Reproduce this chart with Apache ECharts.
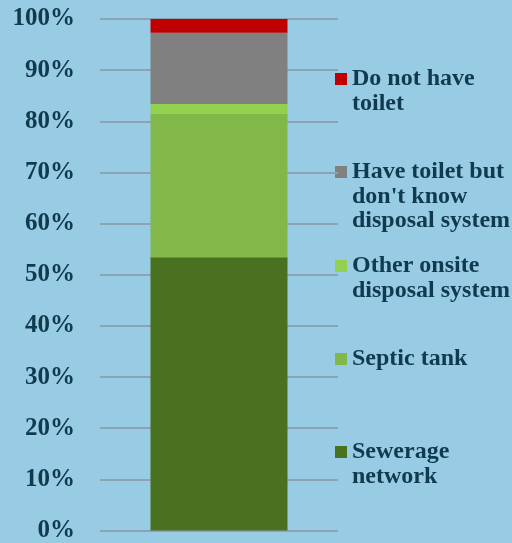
<!DOCTYPE html>
<html>
<head>
<meta charset="utf-8">
<style>
  html, body { margin: 0; padding: 0; background: #98cbe4; }
  #chart { width: 512px; height: 543px; }
</style>
<script src="https://cdn.jsdelivr.net/npm/echarts@6/dist/echarts.min.js"></script>
</head>
<body>
<div id="chart"></div>
<script>
// Share of households by toilet disposal system (stacked to 100%)
const categories = ['Households'];
const seriesNames = [
  'Sewerage network',
  'Septic tank',
  'Other onsite disposal system',
  "Have toilet but don't know disposal system",
  'Do not have toilet'
];
// legend text as it wraps beside the chart
const legendLabels = [
  'Sewerage\nnetwork',
  'Septic tank',
  'Other onsite\ndisposal system',
  "Have toilet but\ndon't know\ndisposal system",
  'Do not have\ntoilet'
];
const sewerage = [53.4];
const septicTank = [28.1];
const otherOnsite = [1.9];
const unknownDisposal = [13.9];
const noToilet = [2.7];
const seriesValues = [sewerage, septicTank, otherOnsite, unknownDisposal, noToilet];
const seriesColors = ['#4a711f', '#82b84a', '#92d050', '#808080', '#c00000'];
const yTicks = [0, 10, 20, 30, 40, 50, 60, 70, 80, 90, 100];

const textColor = '#103a4e';
const fontFamily = '"Liberation Serif", "DejaVu Serif", serif';
const lineH = 24.5;
// vertical centre of each legend entry's first line
const legendRowCentres = [452, 359, 266, 172, 79];

// legend: square swatch beside the first line of a wrapped label
const legendGraphics = [];
seriesNames.forEach((name, i) => {
  const cy = legendRowCentres[i];
  legendGraphics.push({
    type: 'rect',
    left: 335,
    top: cy - 6,
    shape: { width: 12, height: 12 },
    style: { fill: seriesColors[i] }
  });
  legendGraphics.push({
    type: 'text',
    left: 352,
    top: cy - lineH / 2,
    style: {
      text: legendLabels[i],
      fill: textColor,
      font: 'bold 24px ' + fontFamily,
      lineHeight: lineH,
      verticalAlign: 'top'
    }
  });
});

const chart = echarts.init(document.getElementById('chart'));
chart.setOption({
  backgroundColor: '#98cbe4',
  animation: false,
  grid: { left: 100, right: 174, top: 19, bottom: 11 },
  graphic: legendGraphics,
  xAxis: {
    type: 'category',
    data: categories,
    axisLine: { show: false },
    axisTick: { show: false },
    axisLabel: { show: false }
  },
  yAxis: {
    type: 'value',
    min: yTicks[0],
    max: yTicks[yTicks.length - 1],
    interval: 10,
    axisLine: { show: false },
    axisTick: { show: false },
    splitLine: { lineStyle: { color: '#8aa4b6', width: 2 } },
    axisLabel: {
      formatter: '{value}%',
      margin: 25,
      color: textColor,
      fontFamily: fontFamily,
      fontWeight: 'bold',
      fontSize: 25
    }
  },
  series: seriesNames.map((name, i) => ({
    name: name,
    type: 'bar',
    stack: 'total',
    barWidth: 137,
    data: seriesValues[i],
    itemStyle: { color: seriesColors[i] }
  }))
});
</script>
</body>
</html>
